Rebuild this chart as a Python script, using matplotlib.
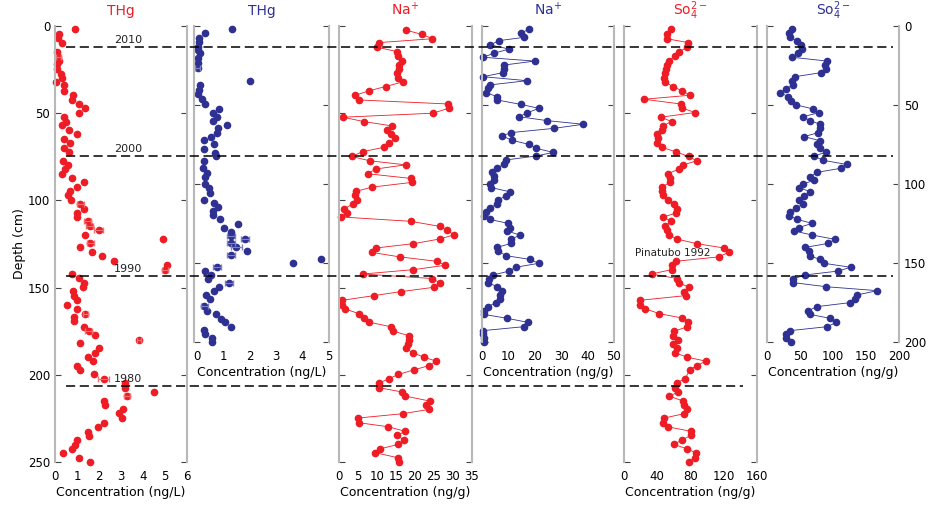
import numpy as np
import matplotlib.pyplot as plt

RED = '#ee1c25'
NAVY = '#2e3192'
SPINE = '#b8b8b8'

# --- data (depth in cm, concentration) ---
thg_red_c = [0.92,0.2,0.15,0.3,0.08,0.15,0.2,0.1,0.08,0.26,0.3,0.03,0.41,0.41,0.8,0.76,1.1,1.37,1.1,
             0.41,0.49,0.3,0.64,1.02,0.43,0.69,0.43,0.64,0.38,0.58,0.46,0.3,0.76,1.34,0.99,0.69,0.58,
             0.72,1.15,1.33,1.02,0.99,1.48,1.57,1.98,1.37,1.6,1.15,4.89,1.68,2.14,2.7,5.08,5.0,0.76,
             1.1,1.33,1.25,0.84,0.88,0.53,0.99,1.02,0.86,1.37,0.86,1.34,1.53,1.83,3.82,1.15,2.0,1.83,
             1.48,1.71,1.02,1.15,1.76,2.21,3.16,3.16,4.5,3.28,2.24,2.29,3.08,2.9,3.05,2.21,1.95,1.48,
             1.53,0.99,0.92,0.76,0.38,1.1,1.6]
thg_red_d = [1.9,4.6,7,9.5,14.7,17.6,20,22,24.6,27.5,30,32,34,37,39.7,42.4,44.7,47,49.6,
             52.3,54.8,57,59.5,62,64.7,67,69.7,72.3,77.3,79.6,82,84.7,87.4,89.7,92.4,94.8,97,
             99.6,102,104.8,107,109.5,112,114.9,117,119.7,124.4,127,122,129.6,132,134.5,137,139.7,142,
             144.5,147.3,149.6,152,154.6,159.7,157,162,166.8,165,169,172.5,174.6,177,179.8,182,184.7,187.4,
             189.9,192,194.7,197,199.8,202.3,204.6,207.4,210,212,215,217.4,219.8,222,224.6,227.5,229.8,232.6,
             235,237.6,240,242.7,245,247.5,250]
thg_red_err_d = [17.6, 102, 112, 114.9, 117, 124.4, 139.7, 165, 174.6, 179.8, 202.3, 212]
thg_red_err = [0.12, 0.15, 0.15, 0.15, 0.2, 0.15, 0.15, 0.12, 0.15, 0.1, 0.25, 0.15]

thg_blue_c = [1.35,0.33,0.1,0.08,0.06,0.04,0.14,0.04,0.04,0.04,2.01,0.14,0.08,0.06,0.2,0.32,0.84,0.61,
              0.76,0.61,1.15,0.8,0.76,0.55,0.29,0.65,0.29,0.69,0.73,0.29,0.25,0.38,0.33,0.33,0.46,0.51,
              0.29,0.65,0.8,0.61,0.61,0.87,1.56,1.02,1.28,1.31,1.82,1.31,1.5,1.92,1.28,3.64,4.71,0.76,
              0.33,0.55,0.42,1.22,0.84,0.65,0.36,0.51,0.29,0.38,0.73,0.93,1.06,1.31,0.29,0.33,0.59,0.59]
thg_blue_d = [2.1,4.6,7.4,9.9,13,15.2,17.3,20.5,23.6,26.8,34.6,37.3,40.5,43.2,46.2,49.4,52.3,54.9,
              57.4,59.9,62.4,64.8,67.5,70,72,74.9,77.6,80.2,82.3,85.2,90,92.8,95.4,100,102.7,105.9,
              110.1,112.2,114.8,117.1,119.6,122.2,125.3,127.6,130.2,132.7,135,137.6,140,142.4,145.1,150.2,147.5,152.7,
              155,157.6,160.3,162.4,165,167.7,170.3,172.8,177.2,180.4,182.5,185.7,187.6,190.3,192.4,195.1,197.7,200]
thg_blue_err_d = [26.8, 132.7, 135, 137.6, 140, 145.1, 152.7, 162.4, 177.2]
thg_blue_err = [0.1, 0.15, 0.15, 0.15, 0.2, 0.15, 0.15, 0.15, 0.12]

na_red_c = [17.5,21.8,24.6,10.6,10.1,15.3,15.4,16.5,15.8,15.8,15.3,15.6,16.9,12.3,7.8,4.3,5.2,28.6,29,24.7,
            1.1,6.5,14,12.5,13.8,14.7,13.2,11.9,6.2,3.3,8.1,17.5,9.7,7.5,18.9,19.1,8.6,4.6,4.1,4.8,3.7,1.3,
            2.1,0.6,18.9,26.5,28.4,30.3,26.6,19.6,9.7,8.6,16,25.7,28,19.6,6.3,24.6,26.5,25.1,16.3,9.2,0.8,
            0.8,1.5,5.2,6.6,7.9,13.7,14.3,18.3,18.3,18.1,17.5,19.4,22.4,25.6,23.8,19.8,15.6,13.1,10.6,10.6,
            16.7,17.4,24,22.8,23.8,16.8,5,5.3,13,17.4,15.3,17.1,15.6,10.9,9.6,15.4,15.8]
na_red_d = [2.3,4.8,7.3,9.5,12.2,14.7,17.2,19.8,22.3,24.8,27.1,29.6,32,34.7,37.2,39.7,42.4,44.7,47.1,50,
            52.3,54.8,57.3,59.5,62,64.5,67.2,69.5,72.1,74.8,77.3,79.6,82,84.7,87.4,89.7,92.4,94.8,97.1,99.6,102,104.8,
            107.3,109.5,112,114.9,117.2,119.7,122.1,124.8,127.3,129.8,132.4,134.9,137.2,139.7,142.2,144.8,147.3,149.8,152.3,154.6,157.3,
            159.7,162.2,164.9,167.4,169.8,172.5,175,177.5,179.8,182.3,184.7,187.4,189.9,192.2,194.7,197.1,199.8,202.3,204.6,207.4,
            209.9,212.2,215.1,217.4,219.8,222.3,224.8,227.5,229.8,232.4,234.7,237.4,239.9,242.4,244.7,247.5,250]

na_blue_c = [17.7,14.6,15.8,6.3,3.2,10.3,4.4,0.4,20,8.4,8.4,8,0.4,17.1,2.9,2.3,1.6,5.7,5.7,14.6,21.6,17.2,
             14.1,24.7,38.4,27.2,10.8,7.7,11.5,17.7,20.4,27,20.4,9,8.4,5.7,3.9,4.4,4.4,2.9,3.5,10.5,9,6.1,
             5.7,3.2,1.4,0.6,2.9,9.9,10.5,9.5,14.3,11.1,11.1,5.7,6.1,9.2,18.1,21.5,12.7,10.3,4.2,2.5,2.3,
             5.7,7.6,7,7,5.2,2.3,0.6,0.6,9.5,17.5,15.9,0.4,0.4,0.6,0.6]
na_blue_d = [2.1,4.6,7.2,9.3,12,14.6,17.3,19.8,22.2,24.7,27.2,29.5,32.1,34.6,37.3,39.5,42.2,44.7,46.8,49.6,52.1,54.9,
             57.4,59.9,62.2,64.8,67.5,69.6,72.4,74.9,77.4,80,82.3,84.8,87.3,90.1,92.6,94.9,97.5,100,102.3,104.9,107.6,110.1,
             112.7,115,117.5,120,122.4,124.9,127.6,129.7,132.3,135,137.6,140.1,142.4,145.4,147.7,150.2,152.7,155.1,157.6,160.1,162.4,
             165,167.5,170.3,172.8,175.1,177.6,180.2,182.5,185,187.6,190.3,192.8,195.1,197.7,200]

so4_red_c = [56,51.2,51.2,77.4,76.2,66.5,61.3,54.4,51.2,50,49.2,48,49.2,58.5,70.2,79.4,23.8,68.1,70.2,85.5,
             44.4,57.3,46.4,45.2,39.1,41.1,40.3,45.2,62.1,77.8,87.5,71.4,66.5,52.4,55.2,55.2,45.2,46,47.2,52.4,
             60.1,63.3,62.5,47.2,56.5,49.2,51.2,54,63.3,87.5,120.6,126.6,113.7,62.5,57.3,57.3,33.1,64.1,66.5,78.2,
             72.2,74.2,19,19,25.8,42.3,69.4,77.4,76.2,60.1,58.5,65.1,58.5,63.3,61.3,76.2,98.8,87.5,79.4,73.4,
             63.3,61.3,65.3,54.4,71.4,72.2,76.2,72.2,48.4,47.2,52.4,80.6,80.6,69.4,60.1,75.4,86.3,85.5,78.2]
so4_red_d = [1.9,4.8,7.3,9.5,12.2,14.7,17.2,19.8,22.3,24.8,27.1,29.6,32,34.7,37.2,39.7,42,44.7,47.1,49.6,
             52.3,54.8,57.3,59.5,62,64.5,67.2,69.5,72.1,74.8,77.3,79.6,82,84.7,87.4,89.7,92.4,94.8,97.1,99.6,
             102,104.8,107.3,109.5,112,114.9,117.2,119.7,122.1,124.8,127.3,129.6,132.4,134.9,137.2,139.7,142.2,144.8,147.3,149.8,
             152.3,154.6,157.3,159.7,162.2,164.9,167.4,169.8,172.5,175,177.5,179.8,182.3,184.7,187.4,189.9,192.2,194.7,197.1,202.3,
             204.6,207.4,209.9,212.2,215.1,217.4,219.8,222.3,224.8,227.5,229.8,232.4,234.7,237.4,239.9,242.4,244.7,247.5,250]

so4_blue_c = [38.5,33.4,34.4,45.6,52.2,53.2,47.1,38.5,91.1,88.6,90.1,82.5,42,38.5,39.5,28.4,20.3,31.9,36.9,
              44.6,69.9,78.5,54.7,64.8,81,81,77.5,56.2,80,75,81,89.1,70.9,85.1,120.5,111.4,75.9,65.8,70.9,
              54.7,48.6,65.8,56.2,48.6,54.7,44.6,35.4,33.4,45.6,68.4,48.1,41,68.4,102.8,92.7,58.2,63.3,64.8,
              80,86.6,126.6,107.8,57.2,39.5,39.5,89.1,167.1,135.7,133.2,125.6,75.9,62.3,64.8,95.2,105.3,91.1,
              35.4,28.4,28.4,37]
so4_blue_d = [2.1,4.6,7.2,9.3,12,14.6,17.3,19.8,22.2,24.7,27.2,29.5,32.1,34.6,37.3,39.9,42.2,44.7,47.3,
              50,52.5,54.9,57.4,59.9,62.2,64.8,67.5,70,72.6,74.9,77.4,80,82.3,85,87.6,90.1,92.6,95.4,97.7,
              100,102.3,104.9,107.6,110.1,112.7,115,117.5,120,122.4,124.9,127.6,129.7,132.3,135,137.6,140.1,142.4,145.4,
              147.7,150.2,152.7,155.1,157.6,160.1,162.4,165,167.5,170.3,172.8,175.1,177.6,180.2,182.5,185,187.6,190.3,
              192.8,195.1,197.7,200]

years = ['2010', '2000', '1990', '1980']
year_y_px = [47, 156, 276, 386]
year_x_end_px = [893, 893, 893, 743]

W, H = 931, 511
fig = plt.figure(figsize=(W / 100, H / 100), dpi=100)

def fx(px):
    return px / W

def fy(px):
    return 1 - px / H

top = 26
red_bot = 462
blue_bot = 342

# panel: (left px, right px, bottom px, xlim, xticks, title, title colour, xlabel, ymax)
panels = [
    (55, 187, red_bot, (0, 6), range(0, 7), 'THg', RED, 'Concentration (ng/L)', 250),
    (194, 329, blue_bot, (-0.1, 5), range(0, 6), 'THg', NAVY, 'Concentration (ng/L)', 200),
    (339, 472, red_bot, (0, 35), range(0, 36, 5), 'Na$^{+}$', RED, 'Concentration (ng/g)', 250),
    (482, 614, blue_bot, (0, 50), range(0, 51, 10), 'Na$^{+}$', NAVY, 'Concentration (ng/g)', 200),
    (624, 757, red_bot, (0, 160), range(0, 161, 40), 'So$_4^{2-}$', RED, 'Concentration (ng/g)', 250),
    (767, 899, blue_bot, (0, 200), range(0, 201, 50), 'So$_4^{2-}$', NAVY, 'Concentration (ng/g)', 200),
]

axes = []
for i, (l, r, b, xl, xt, title, tc, xlab, ymax) in enumerate(panels):
    ax = fig.add_axes([fx(l), fy(b), fx(r - l), (b - top) / H])
    ax.set_xlim(*xl)
    ax.set_ylim(ymax, 0)
    ax.set_xticks(list(xt))
    ax.set_yticks(range(0, ymax + 1, 50))
    for s in ax.spines.values():
        s.set_color(SPINE)
        s.set_linewidth(1.5)
    ax.spines['top'].set_visible(False)
    ax.spines['bottom'].set_visible(False)
    ax.tick_params(axis='x', direction='in', length=0, labelsize=8.5, pad=6)
    ax.tick_params(axis='y', direction='in', length=4, color='#444444', left=True, right=True,
                   labelleft=(i == 0), labelright=(i == 5), labelsize=8.5)
    ax.set_title(title, color=tc, fontsize=10, pad=8)
    ax.set_xlabel(xlab, fontsize=9, labelpad=2)
    ax.patch.set_alpha(0)
    axes.append(ax)

axes[0].set_ylabel('Depth (cm)', fontsize=9, labelpad=1)

ms = 4.5
ax = axes[0]
ax.plot(thg_red_c, thg_red_d, 'o', color=RED, ms=ms, clip_on=False)
err_c = [thg_red_c[thg_red_d.index(d)] for d in thg_red_err_d]
ax.errorbar(err_c, thg_red_err_d, xerr=thg_red_err, fmt='none', ecolor='#f07070', elinewidth=0.8, capsize=2)

ax = axes[1]
ax.plot(thg_blue_c, thg_blue_d, 'o', color=NAVY, ms=ms, clip_on=False)
err_c = [thg_blue_c[thg_blue_d.index(d)] for d in thg_blue_err_d]
ax.errorbar(err_c, thg_blue_err_d, xerr=thg_blue_err, fmt='none', ecolor='#7f82c0', elinewidth=0.8, capsize=2)

axes[2].plot(na_red_c, na_red_d, '-o', color=RED, ms=ms, lw=0.6, clip_on=False)
axes[3].plot(na_blue_c, na_blue_d, '-o', color=NAVY, ms=ms, lw=0.6, clip_on=False)
axes[4].plot(so4_red_c, so4_red_d, '-o', color=RED, ms=ms, lw=0.6, clip_on=False)
axes[5].plot(so4_blue_c, so4_blue_d, '-o', color=NAVY, ms=ms, lw=0.6, clip_on=False)

# dating horizons, drawn across the panels
for yr, ypx, xend in zip(years, year_y_px, year_x_end_px):
    fig.add_artist(plt.Line2D([fx(66), fx(xend)], [fy(ypx), fy(ypx)], color='black',
                              lw=1.1, ls=(0, (6, 3))))
    fig.text(fx(128), fy(ypx - 2), yr, fontsize=8, ha='center', va='bottom', color='#222222')

fig.text(fx(673), fy(253), 'Pinatubo 1992', fontsize=7.5, ha='center', va='center', color='#222222')

fig.savefig('out.png', dpi=100)
